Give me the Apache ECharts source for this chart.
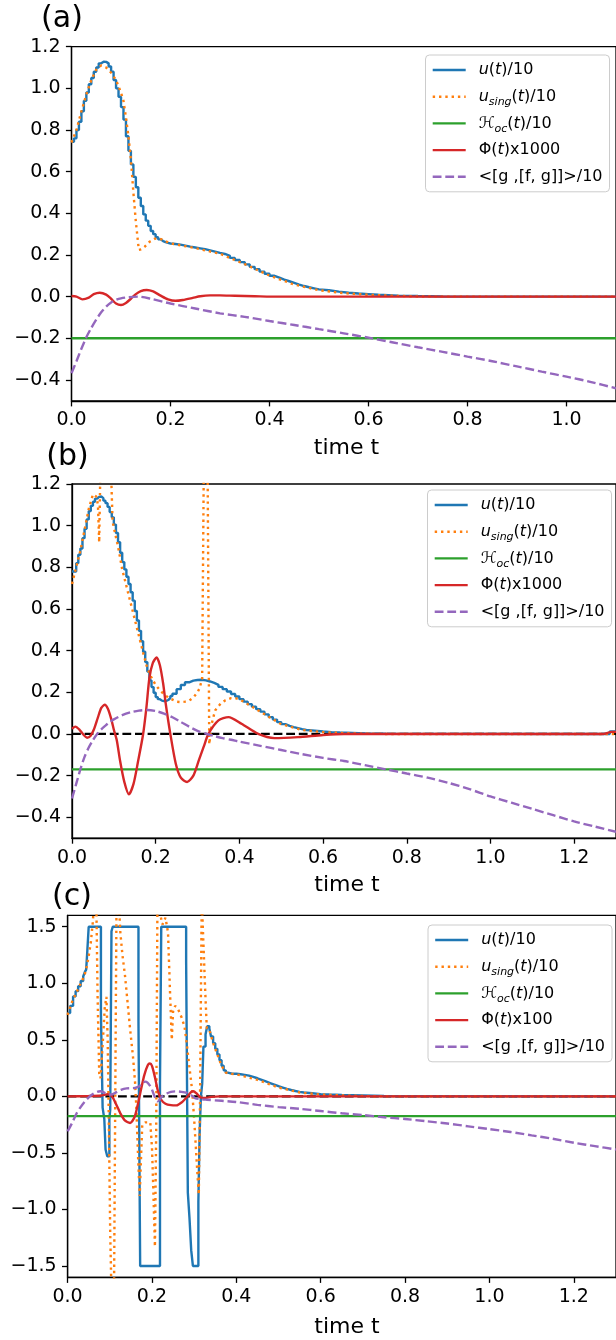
<!DOCTYPE html>
<html><head><meta charset="utf-8">
<script src="https://cdn.jsdelivr.net/npm/echarts@6/dist/echarts.min.js"></script>
<style>html,body{margin:0;padding:0;background:#fff}#c{width:616px;height:1340px}</style>
</head><body><div id="c"></div>
<script>
// ---------- tick labels ----------
const xTicksA = [0, 0.2, 0.4, 0.6, 0.8, 1.0];
const xTicksBC = [0, 0.2, 0.4, 0.6, 0.8, 1.0, 1.2];
const yTicksAB = [-0.4, -0.2, 0, 0.2, 0.4, 0.6, 0.8, 1.0, 1.2];
const yTicksC = [-1.5, -1.0, -0.5, 0, 0.5, 1.0, 1.5];

// ---------- legend names ----------
const namesA = ['u(t)/10', 'u_sing(t)/10', 'ℋ_oc(t)/10', 'Φ(t)x1000', '<[g ,[f, g]]>/10'];
const namesC = ['u(t)/10', 'u_sing(t)/10', 'ℋ_oc(t)/10', 'Φ(t)x100', '<[g ,[f, g]]>/10'];

// ---------- panel (a) ----------
const tUA = [0,0.005,0.01,0.015,0.02,0.025,0.03,0.035,0.04,0.045,0.05,0.055,0.06,0.065,0.07,0.075,0.08,0.085,0.09,0.095,0.10,0.105,0.11,0.115,0.12,0.125,0.13,0.135,0.14,0.145,0.15,0.155,0.16,0.165,0.17,0.175,0.18,0.185,0.19,0.195,0.20,0.21,0.22,0.23,0.24,0.25,0.26,0.27,0.28,0.29,0.30,0.31,0.32,0.33,0.34,0.35,0.36,0.37,0.38,0.39,0.40,0.41,0.42,0.43,0.44,0.45,0.46,0.47,0.48,0.49,0.50,0.52,0.54,0.56,0.58,0.60,0.62,0.64,0.66,0.70,0.75,1.1];
const uA  = [0.744,0.76,0.80,0.84,0.89,0.94,0.98,1.02,1.05,1.08,1.10,1.12,1.128,1.127,1.12,1.105,1.08,1.04,1.0,0.96,0.91,0.85,0.77,0.70,0.635,0.575,0.525,0.475,0.435,0.395,0.365,0.34,0.315,0.30,0.285,0.275,0.267,0.262,0.258,0.255,0.253,0.25,0.245,0.24,0.236,0.232,0.228,0.222,0.216,0.21,0.205,0.196,0.186,0.176,0.166,0.155,0.143,0.132,0.12,0.11,0.10,0.091,0.082,0.074,0.066,0.058,0.051,0.045,0.04,0.035,0.031,0.024,0.019,0.015,0.012,0.009,0.007,0.005,0.003,0.001,0,0];
const tOA = [0,0.01,0.02,0.03,0.04,0.05,0.06,0.07,0.08,0.09,0.10,0.105,0.11,0.115,0.12,0.125,0.13,0.136,0.142,0.148,0.158,0.168,0.176,0.185,0.19,0.2,0.25,0.3,0.35,0.4,0.45,0.5,0.55,0.6,0.65,0.7,0.75,1.1];
const oA  = [0.74,0.80,0.89,0.97,1.04,1.09,1.11,1.10,1.075,1.04,0.98,0.94,0.86,0.77,0.66,0.50,0.36,0.224,0.228,0.24,0.264,0.278,0.28,0.272,0.266,0.256,0.233,0.206,0.156,0.101,0.058,0.031,0.017,0.009,0.004,0.001,0,0];
const tRA = [0,0.01,0.022,0.035,0.045,0.057,0.07,0.08,0.09,0.1,0.11,0.12,0.13,0.14,0.152,0.165,0.18,0.195,0.21,0.225,0.245,0.26,0.28,0.3,0.33,0.37,0.42,1.1];
const rA  = [0.003,0,-0.013,-0.005,0.012,0.019,0.01,-0.01,-0.033,-0.04,-0.03,-0.01,0.012,0.027,0.032,0.025,0.005,-0.013,-0.02,-0.016,-0.006,0.002,0.006,0.006,0.004,0.002,0,0];
const tPA = [0,0.01,0.02,0.03,0.04,0.05,0.06,0.07,0.08,0.09,0.1,0.115,0.135,0.16,0.2,0.25,0.3,0.35,0.4,0.45,0.5,0.55,0.6,0.65,0.7,0.75,0.8,0.85,0.9,0.95,1.0,1.05,1.1];
const pA  = [-0.368,-0.31,-0.25,-0.195,-0.15,-0.11,-0.075,-0.048,-0.028,-0.015,-0.008,-0.003,0,-0.01,-0.033,-0.057,-0.08,-0.097,-0.117,-0.136,-0.156,-0.176,-0.197,-0.22,-0.243,-0.265,-0.288,-0.31,-0.335,-0.36,-0.384,-0.41,-0.44];
const hA = -0.2;
const spanA = [0, 1.1];

// ---------- panel (b) ----------
const tUB = [0,0.005,0.01,0.015,0.02,0.025,0.03,0.035,0.04,0.045,0.05,0.055,0.06,0.065,0.07,0.075,0.08,0.085,0.09,0.095,0.10,0.105,0.11,0.115,0.12,0.125,0.13,0.135,0.14,0.145,0.15,0.155,0.16,0.165,0.17,0.175,0.18,0.185,0.19,0.195,0.20,0.205,0.21,0.215,0.22,0.225,0.23,0.235,0.24,0.25,0.26,0.27,0.28,0.29,0.30,0.31,0.32,0.33,0.34,0.35,0.36,0.37,0.38,0.39,0.40,0.41,0.42,0.43,0.44,0.45,0.46,0.47,0.48,0.49,0.50,0.51,0.52,0.53,0.54,0.55,0.56,0.58,0.60,0.62,0.64,0.67,0.70,0.75,1.285,1.3];
const uB  = [0.78,0.78,0.82,0.86,0.89,0.94,0.985,1.03,1.07,1.095,1.115,1.13,1.138,1.14,1.132,1.12,1.108,1.09,1.065,1.04,1.005,0.965,0.92,0.87,0.825,0.79,0.755,0.72,0.68,0.64,0.59,0.545,0.495,0.445,0.395,0.345,0.30,0.257,0.225,0.198,0.177,0.167,0.16,0.158,0.158,0.163,0.172,0.182,0.193,0.215,0.235,0.248,0.256,0.259,0.26,0.257,0.252,0.245,0.236,0.226,0.215,0.204,0.192,0.18,0.167,0.155,0.143,0.131,0.119,0.107,0.094,0.081,0.069,0.057,0.047,0.039,0.033,0.028,0.023,0.019,0.016,0.012,0.009,0.007,0.005,0.003,0.001,0,0.012,0.012];
const tOB = [0,0.01,0.02,0.03,0.04,0.05,0.058,0.062,0.065,0.068,0.075,0.085,0.093,0.097,0.1,0.11,0.12,0.13,0.14,0.15,0.16,0.17,0.18,0.19,0.2,0.21,0.22,0.23,0.24,0.25,0.26,0.27,0.28,0.29,0.3,0.305,0.311,0.315,0.324,0.328,0.334,0.342,0.355,0.366,0.38,0.39,0.4,0.41,0.42,0.45,0.5,0.55,0.6,0.65,0.7,0.75,1.3];
const oB  = [0.72,0.80,0.88,0.98,1.08,1.15,1.14,1.10,0.92,1.3,1.3,1.3,1.28,1.02,0.99,0.90,0.79,0.71,0.63,0.55,0.47,0.39,0.315,0.27,0.235,0.21,0.19,0.175,0.165,0.155,0.153,0.155,0.16,0.175,0.20,0.22,0.265,1.3,1.3,-0.05,0.05,0.113,0.145,0.161,0.172,0.172,0.166,0.155,0.143,0.107,0.047,0.019,0.009,0.004,0.001,0,0];
const tRB = [0,0.008,0.018,0.028,0.036,0.044,0.052,0.062,0.07,0.078,0.086,0.094,0.1,0.107,0.115,0.125,0.136,0.147,0.158,0.17,0.178,0.185,0.193,0.202,0.21,0.218,0.224,0.235,0.248,0.26,0.275,0.29,0.303,0.315,0.326,0.35,0.374,0.405,0.445,0.484,0.54,0.6,0.65,1.27,1.29,1.3];
const rB  = [0.025,0.035,0.02,-0.005,-0.018,-0.01,0.02,0.08,0.125,0.14,0.12,0.07,0.02,-0.03,-0.13,-0.23,-0.29,-0.24,-0.13,0,0.13,0.27,0.34,0.367,0.33,0.24,0.145,0,-0.143,-0.21,-0.231,-0.2,-0.127,-0.06,0,0.065,0.081,0.049,0,-0.02,-0.015,-0.005,0,0,0.01,0.01];
const tPB = [0,0.01,0.02,0.03,0.04,0.05,0.06,0.07,0.08,0.09,0.1,0.12,0.14,0.16,0.18,0.2,0.22,0.24,0.26,0.28,0.3,0.32,0.34,0.36,0.38,0.4,0.45,0.5,0.55,0.6,0.65,0.7,0.75,0.8,0.85,0.9,0.95,1.0,1.05,1.1,1.15,1.2,1.25,1.3];
const pB  = [-0.31,-0.24,-0.17,-0.11,-0.065,-0.03,0,0.022,0.04,0.057,0.07,0.09,0.104,0.112,0.115,0.11,0.098,0.08,0.058,0.035,0.015,0.002,-0.01,-0.02,-0.028,-0.037,-0.057,-0.077,-0.097,-0.115,-0.13,-0.15,-0.17,-0.19,-0.21,-0.235,-0.265,-0.3,-0.33,-0.36,-0.39,-0.42,-0.445,-0.47];
const hB = -0.17;
const spanBC = [0, 1.3];

// ---------- panel (c) ----------
const tUC = [0,0.006,0.013,0.019,0.025,0.031,0.037,0.041,0.044,0.046,0.05,0.079,0.083,0.087,0.09,0.094,0.099,0.101,0.104,0.107,0.168,0.172,0.219,0.222,0.281,0.285,0.289,0.293,0.297,0.31,0.313,0.316,0.319,0.322,0.327,0.331,0.336,0.34,0.345,0.35,0.355,0.36,0.365,0.37,0.375,0.38,0.39,0.40,0.41,0.42,0.43,0.44,0.45,0.46,0.47,0.48,0.49,0.50,0.51,0.52,0.53,0.54,0.55,0.56,0.58,0.60,0.62,0.65,0.70,0.75,1.3];
const uC  = [0.737,0.8,0.884,0.93,0.973,1.02,1.06,1.1,1.12,1.24,1.5,0.737,-0.1,-0.2,-0.47,-0.53,-0.2,-0.12,1.46,1.5,0.66,-1.5,0.12,1.5,1.19,-0.85,-1.08,-1.36,-1.5,-0.93,-0.32,0,0.11,0.44,0.55,0.62,0.6,0.53,0.47,0.42,0.37,0.32,0.27,0.23,0.21,0.2,0.2,0.195,0.19,0.183,0.172,0.16,0.146,0.132,0.118,0.104,0.09,0.078,0.066,0.056,0.047,0.04,0.034,0.028,0.02,0.016,0.012,0.008,0.003,0,0];
const tOC = [0,0.01,0.02,0.03,0.04,0.045,0.05,0.055,0.06,0.063,0.068,0.071,0.075,0.078,0.083,0.088,0.092,0.095,0.098,0.101,0.104,0.11,0.113,0.116,0.121,0.125,0.13,0.136,0.143,0.148,0.155,0.16,0.163,0.167,0.171,0.174,0.177,0.185,0.196,0.2,0.203,0.207,0.21,0.213,0.22,0.225,0.232,0.238,0.243,0.247,0.25,0.255,0.262,0.27,0.277,0.283,0.289,0.295,0.3,0.304,0.308,0.311,0.314,0.318,0.322,0.326,0.33,0.336,0.345,0.355,0.365,0.375,0.385,0.4,0.45,0.5,0.55,0.6,0.65,0.7,0.75,1.3];
const oC  = [0.72,0.83,0.91,0.99,1.07,1.14,1.24,1.36,1.55,1.75,1.75,0.9,0.2,0.16,0.45,0.78,0.88,0.5,-0.3,-1.2,-1.75,-1.75,0,1.75,1.75,1.45,1.25,1.07,0.8,0.6,0.35,0.12,-0.1,-0.53,-0.88,-0.55,-0.25,-0.23,-0.23,-0.45,-0.8,-1.33,-0.3,1.75,1.6,1.52,1.58,1.45,0.9,0.5,0.75,0.8,0.77,0.7,0.62,0.45,0.25,0.06,-0.2,-0.45,-0.7,-0.87,0,1.75,1.75,0.95,0.6,0.59,0.47,0.37,0.27,0.21,0.2,0.195,0.146,0.078,0.034,0.016,0.008,0.003,0,0];
const tRC = [0,0.05,0.08,0.095,0.105,0.115,0.125,0.135,0.148,0.158,0.166,0.174,0.182,0.19,0.195,0.2,0.207,0.214,0.222,0.232,0.245,0.258,0.27,0.282,0.292,0.298,0.306,0.315,0.325,0.34,0.36,1.3];
const rC  = [0,0.003,0.008,0.02,0,-0.07,-0.15,-0.21,-0.235,-0.19,-0.08,0.06,0.19,0.275,0.29,0.27,0.17,0.05,-0.03,-0.065,-0.078,-0.08,-0.055,-0.01,0.035,0.045,0.025,-0.01,-0.015,-0.005,0,0];
const tPC = [0,0.01,0.02,0.03,0.04,0.05,0.06,0.07,0.078,0.088,0.097,0.107,0.117,0.128,0.14,0.15,0.16,0.17,0.178,0.184,0.19,0.196,0.2,0.206,0.213,0.218,0.224,0.235,0.245,0.256,0.27,0.283,0.293,0.302,0.315,0.33,0.4,0.45,0.5,0.55,0.6,0.65,0.7,0.75,0.8,0.85,0.9,0.95,1.0,1.05,1.1,1.15,1.2,1.25,1.3];
const pC  = [-0.31,-0.24,-0.16,-0.1,-0.05,-0.01,0.02,0.04,0.045,0.03,0.015,0.02,0.04,0.06,0.07,0.072,0.075,0.09,0.12,0.13,0.12,0.09,0.06,0,-0.044,-0.03,0,0.025,0.04,0.044,0.04,0.03,0.01,-0.015,-0.025,-0.03,-0.05,-0.075,-0.095,-0.11,-0.13,-0.15,-0.165,-0.185,-0.2,-0.22,-0.24,-0.265,-0.29,-0.315,-0.345,-0.375,-0.41,-0.44,-0.47];
const hC = -0.175;

// ---------- build ----------
const FONT = 'DejaVu Sans';
const C = {u:'#1f77b4', o:'#ff7f0e', g:'#2ca02c', r:'#d62728', p:'#9467bd'};
function pairs(ts, vs){ return ts.map((t,i)=>[t, vs[i]]); }
function fmt(v){ return v.toFixed(1).replace('-', '\u2212'); }

function xAx(gi, max, ticks){
  return {type:'value', gridIndex:gi, min:0, max:max,
    axisLine:{show:true, onZero:false, lineStyle:{color:'#000', width:1.3}},
    axisTick:{show:true, length:5.6, customValues:ticks, lineStyle:{color:'#000', width:1.3}},
    axisLabel:{customValues:ticks, margin:10, fontSize:19, fontFamily:FONT, color:'#000', formatter:fmt},
    splitLine:{show:false}};
}
function yAx(gi, min, max, ticks){
  return {type:'value', gridIndex:gi, min:min, max:max,
    axisLine:{show:true, onZero:false, lineStyle:{color:'#000', width:1.3}},
    axisTick:{show:true, length:5.6, customValues:ticks, lineStyle:{color:'#000', width:1.3}},
    axisLabel:{customValues:ticks, margin:11, fontSize:19, fontFamily:FONT, color:'#000', formatter:fmt},
    splitLine:{show:false}};
}
function ln(name, gi, data, color, extra){
  return Object.assign({type:'line', name:name, xAxisIndex:gi, yAxisIndex:gi, data:data,
    symbol:'none', showSymbol:false, animation:false,
    itemStyle:{color:color}, lineStyle:{color:color, width:2.4}}, extra||{});
}
function panel(gi, names, tu,u, to,o, h, span, tr,r, tp,p, zero){
  const s = [];
  if (zero) s.push(ln('', gi, span.map(t=>[t,0]), '#000', {lineStyle:{color:'#000', width:2.2, type:[8.8,3.8]}, silent:true, z:1}));
  s.push(ln(names[0], gi, pairs(tu,u), C.u, {step:'end', z:2}));
  s.push(ln(names[1], gi, pairs(to,o), C.o, {lineStyle:{color:C.o, width:2.4, type:[2.4,3.9]}, z:3}));
  s.push(ln(names[2], gi, span.map(t=>[t,h]), C.g, {z:4}));
  s.push(ln(names[3], gi, pairs(tr,r), C.r, {smooth:0.25, z:5}));
  s.push(ln(names[4], gi, pairs(tp,p), C.p, {smooth:0.25, lineStyle:{color:C.p, width:2.4, type:[8.8,3.8]}, z:6}));
  return s;
}

const richBase = {fontSize:16, fontFamily:FONT, color:'#000', lineHeight:22};
const rich = {
  n: Object.assign({}, richBase),
  it: Object.assign({}, richBase, {fontStyle:'italic'}),
  sub: {fontSize:11, fontFamily:FONT, color:'#000', fontStyle:'italic', lineHeight:11, verticalAlign:'bottom'}
};
const legendText = {
  'u(t)/10': '{it|u}{n|(}{it|t}{n|)/10}',
  'u_sing(t)/10': '{it|u}{sub|sing}{n|(}{it|t}{n|)/10}',
  'ℋ_oc(t)/10': '{it|ℋ}{sub|oc}{n|(}{it|t}{n|)/10}',
  'Φ(t)x1000': '{n|Φ(}{it|t}{n|)x1000}',
  'Φ(t)x100': '{n|Φ(}{it|t}{n|)x100}',
  '<[g ,[f, g]]>/10': '{n|<[g ,[f, g]]>/10}'
};
function lg(left, top, names){
  return {orient:'vertical', left:left, top:top, data:names, itemWidth:33, itemHeight:14, itemGap:4.7,
    padding:[4,7,4,6], backgroundColor:'rgba(255,255,255,0.8)', borderColor:'#cccccc', borderWidth:1, borderRadius:4,
    itemStyle:{opacity:0}, lineStyle:{width:2.4},
    formatter: n => legendText[n] || n,
    textStyle:{fontSize:16, fontFamily:FONT, color:'#000', lineHeight:22, padding:[0,0,0,8], rich:rich}};
}
function txt(x, y, s, size){
  return {type:'text', x:x, y:y, silent:true, style:{text:s, font:size+'px "DejaVu Sans"', fill:'#000', align:'center', verticalAlign:'middle'}};
}

const series = [].concat(
  panel(0, namesA, tUA,uA, tOA,oA, hA, spanA, tRA,rA, tPA,pA, false),
  panel(1, namesA, tUB,uB, tOB,oB, hB, spanBC, tRB,rB, tPB,pB, true),
  panel(2, namesC, tUC,uC, tOC,oC, hC, spanBC, tRC,rC, tPC,pC, true)
);

const chart = echarts.init(document.getElementById('c'), null, {renderer:'canvas', width:616, height:1340});
chart.setOption({
  backgroundColor:'#ffffff',
  animation:false,
  grid:[
    {left:71.5, top:46.7, width:549, height:354.1, show:true, borderColor:'#000', borderWidth:1.3, backgroundColor:'transparent'},
    {left:72, top:484, width:549.5, height:354.1, show:true, borderColor:'#000', borderWidth:1.3, backgroundColor:'transparent'},
    {left:67.6, top:915.4, width:559, height:361.9, show:true, borderColor:'#000', borderWidth:1.3, backgroundColor:'transparent'}
  ],
  xAxis:[xAx(0, spanA[1], xTicksA), xAx(1, spanBC[1], xTicksBC), xAx(2, spanBC[1], xTicksBC)],
  yAxis:[yAx(0, -0.5, 1.2, yTicksAB), yAx(1, -0.5, 1.2, yTicksAB), yAx(2, -1.6, 1.6, yTicksC)],
  legend:[lg(425.5, 55, namesA), lg(427.5, 490, namesA), lg(428, 925, namesC)],
  graphic:[
    txt(62, 19, '(a)', 30), txt(67.5, 457.7, '(b)', 30), txt(72, 897.7, '(c)', 30),
    txt(346.5, 448.4, 'time t', 22), txt(347, 885.7, 'time t', 22), txt(347, 1327.4, 'time t', 22)
  ],
  series: series
});
</script></body></html>
